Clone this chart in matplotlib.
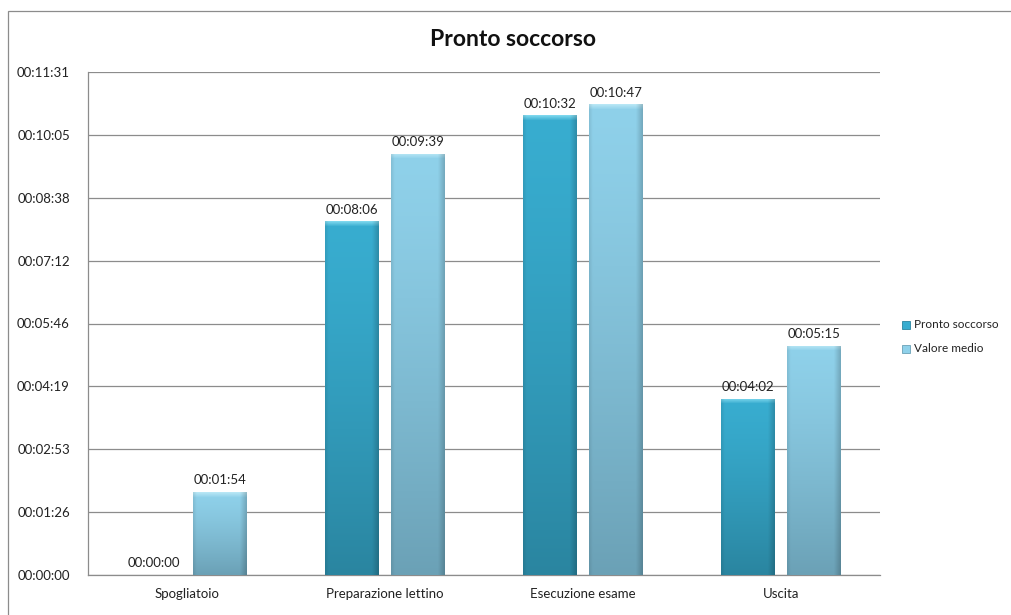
import numpy as np
import matplotlib.pyplot as plt
from matplotlib.colors import to_rgb
from matplotlib.patches import Rectangle

categorie = ['Spogliatoio', 'Preparazione lettino', 'Esecuzione esame', 'Uscita']
# tempi in secondi
pronto_soccorso = [0, 486, 632, 242]
valore_medio = [114, 579, 647, 315]
serie = ['Pronto soccorso', 'Valore medio']

# passo dell'asse: 0,001 giorni (86,4 s)
passo = 86.4
y_max = 8 * passo


def hms(sec):
    s = int(round(sec))
    return '%02d:%02d:%02d' % (s // 3600, (s % 3600) // 60, s % 60)


plt.rcParams['font.family'] = ['Lato', 'DejaVu Sans']
plt.rcParams['font.size'] = 9.5

fig = plt.figure(figsize=(10.11, 6.15), dpi=100)
fig.patches.append(Rectangle((8 / 1011, -0.1), 1.2, (615 - 11) / 615 + 0.1,
                             transform=fig.transFigure, fill=False,
                             edgecolor='#8c8c8c', linewidth=0.9))
ax = fig.add_axes([88 / 1011, 40 / 615, 792 / 1011, 503 / 615])

x = np.arange(len(categorie))
larghezza = 0.27
scarto = 0.167

colori = [('#38add0', '#2a85a0', '#8fe2f5'), ('#8fd1ea', '#6ba1b6', '#c2ecf8')]
px_per_sec = 503 / y_max


def barra_sfumata(xc, h, cols):
    top, bottom, bevel = (np.array(to_rgb(c)) for c in cols)
    bars = ax.bar(xc, h, larghezza, color=top, zorder=3, linewidth=0)
    rect = bars[0]
    if h <= 0:
        return
    n = max(int(h * px_per_sec), 2)
    t = np.linspace(0, 1, n)[:, None] ** 1.3
    img = top * (1 - t) + bottom * t
    # bordo superiore smussato
    k = min(5, n)
    for i in range(k):
        a = 1 - i / k
        img[i] = img[i] * (1 - a * 0.8) + bevel * a * 0.8
    img = np.repeat(img[:, None, :], 40, axis=1)
    # ombra sui lati
    u = np.linspace(0, 1, 40)
    ombra = 1 - 0.18 * np.clip((u - 0.88) / 0.12, 0, 1) - 0.08 * np.clip((0.06 - u) / 0.06, 0, 1)
    img = img * ombra[None, :, None]
    im = ax.imshow(img, extent=[xc - larghezza / 2, xc + larghezza / 2, 0, h],
                   aspect='auto', zorder=4, interpolation='bilinear')
    im.set_clip_path(rect)


for xc, v in zip(x - scarto, pronto_soccorso):
    barra_sfumata(xc, v, colori[0])
for xc, v in zip(x + scarto, valore_medio):
    barra_sfumata(xc, v, colori[1])

for xc, v in zip(x - scarto, pronto_soccorso):
    ax.annotate(hms(v), (xc, v), xytext=(0, 4), textcoords='offset points',
                ha='center', va='bottom', color='#222222', zorder=5)
for xc, v in zip(x + scarto, valore_medio):
    ax.annotate(hms(v), (xc, v), xytext=(0, 4), textcoords='offset points',
                ha='center', va='bottom', color='#222222', zorder=5)

ax.set_xlim(-0.5, len(categorie) - 0.5)
ax.set_ylim(0, y_max)
tick_y = np.arange(9) * passo
ax.set_yticks(tick_y)
ax.set_yticklabels([hms(t) for t in tick_y])
ax.set_xticks(x)
ax.set_xticklabels(categorie)
ax.tick_params(axis='both', length=0, colors='#222222', labelsize=9.5)
ax.tick_params(axis='y', pad=13)
ax.tick_params(axis='x', pad=9)
ax.yaxis.grid(True, color='#8c8c8c', linewidth=0.9, zorder=0)
ax.set_axisbelow(True)
for lato in ['top', 'right']:
    ax.spines[lato].set_visible(False)
for lato in ['left', 'bottom']:
    ax.spines[lato].set_color('#8c8c8c')
    ax.spines[lato].set_linewidth(0.9)

fig.text(513 / 1011, 1 - 40 / 615, 'Pronto soccorso', ha='center', va='center',
         fontsize=16.5, fontweight='bold', color='#111111')

# legenda
for i, (nome, cols) in enumerate(zip(serie, colori)):
    yl = 1 - (325 + 24 * i) / 615
    fig.patches.append(Rectangle((902 / 1011, yl - 4 / 615), 8 / 1011, 8 / 615,
                                 transform=fig.transFigure, facecolor=cols[0],
                                 edgecolor=cols[1], linewidth=0.6))
    fig.text(914 / 1011, yl, nome, ha='left', va='center', fontsize=8.5, color='#222222')

fig.savefig('out.png', dpi=100)
